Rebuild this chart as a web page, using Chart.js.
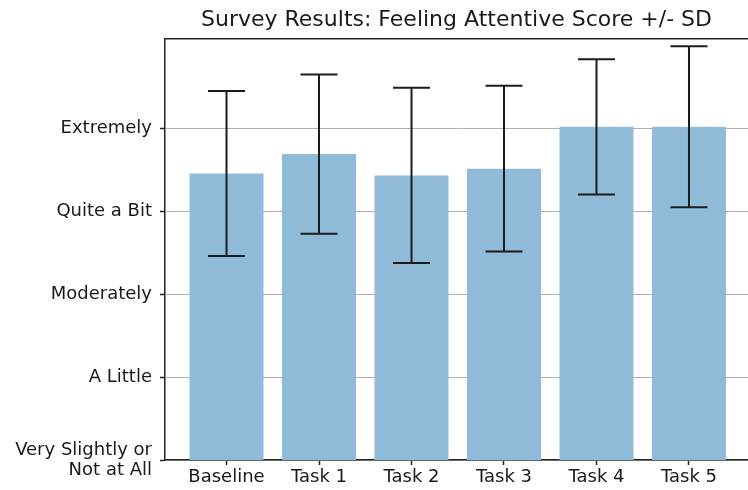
<!DOCTYPE html>
<html>
<head>
<meta charset="utf-8">
<script src="https://cdn.jsdelivr.net/npm/chart.js@4.4.0/dist/chart.umd.min.js"></script>
<style>
body { margin: 0; background: #fff; }
#wrap { width: 748px; height: 490px; }
</style>
</head>
<body>
<div id="wrap"><canvas id="surveyChart" width="748" height="490"></canvas></div>
<script>
// survey data: mean score and standard deviation per task
const taskLabels = ["Baseline", "Task 1", "Task 2", "Task 3", "Task 4", "Task 5"];
const attentiveMean = [4.455, 4.69, 4.433, 4.515, 5.02, 5.02];
const attentiveSd = [0.995, 0.96, 1.057, 1.0, 0.816, 0.97];
const scoreTicks = [1, 2, 3, 4, 5];
const scoreLabels = [["Very Slightly or", "Not at All"], "A Little", "Moderately", "Quite a Bit", "Extremely"];

const textColor = '#1a1a1a';
const spineColor = '#222';
const fontFamily = '"DejaVu Sans", sans-serif';

const errorBarPlugin = {
    id: 'errorBars',
    afterDraw(chart) {
        let ctx = chart.ctx;
        let xs = chart.scales.x;
        let ys = chart.scales.y;
        let capHalf = 18.5;
        ctx.save();
        ctx.strokeStyle = '#1c1c1c';
        ctx.lineWidth = 2;
        attentiveMean.forEach(function(m, i) {
            let px = xs.getPixelForValue(i);
            let top = ys.getPixelForValue(m + attentiveSd[i]);
            let bot = ys.getPixelForValue(m - attentiveSd[i]);
            ctx.beginPath();
            ctx.moveTo(px, top);
            ctx.lineTo(px, bot);
            ctx.moveTo(px - capHalf, top);
            ctx.lineTo(px + capHalf, top);
            ctx.moveTo(px - capHalf, bot);
            ctx.lineTo(px + capHalf, bot);
            ctx.stroke();
        });
        ctx.restore();
    }
};

function manageSurveyChart() {
    let ctx = document.getElementById("surveyChart").getContext('2d');
    let surveyChart = new Chart(ctx, {
        type: 'bar',
        data: {
            datasets: [{
                data: attentiveMean.map(function(v, i) { return {x: i, y: v}; }),
                backgroundColor: '#8fbbd9',
                borderWidth: 0,
                barPercentage: 0.8,
                categoryPercentage: 1.0,
                xAxisID: 'x',
                yAxisID: 'y'
            }]
        },
        options: {
            responsive: false,
            animation: false,
            layout: { padding: 0 },
            plugins: {
                legend: { display: false },
                tooltip: { enabled: false },
                title: {
                    display: true,
                    fullSize: false,
                    text: 'Survey Results: Feeling Attentive Score +/- SD',
                    color: textColor,
                    font: { family: fontFamily, size: 22, weight: 'normal', lineHeight: 1.2 },
                    padding: { top: 7, bottom: 5.5 }
                }
            },
            scales: {
                x: {
                    type: 'linear',
                    position: 'bottom',
                    offset: false,
                    min: -0.665,
                    max: 5.638,
                    afterBuildTicks: function(s) { s.ticks = taskLabels.map(function(_, i) { return {value: i}; }); },
                    afterFit: function(s) { s.height = 30; },
                    ticks: {
                        callback: function(v) { return taskLabels[v]; },
                        color: textColor,
                        font: { family: fontFamily, size: 18 },
                        padding: 2,
                        autoSkip: false,
                        maxRotation: 0
                    },
                    grid: { offset: false, drawOnChartArea: false, tickLength: 5, tickColor: spineColor, tickWidth: 1.5 },
                    border: { color: spineColor, width: 1.5 }
                },
                xTop: {
                    type: 'linear',
                    position: 'top',
                    ticks: { display: false },
                    grid: { display: false },
                    border: { color: spineColor, width: 1.5 },
                    afterFit: function(s) { s.height = 0; }
                },
                y: {
                    min: 1,
                    max: 6.08,
                    afterBuildTicks: function(s) { s.ticks = scoreTicks.map(function(v) { return {value: v}; }); },
                    afterFit: function(s) { s.width = 165; },
                    ticks: {
                        callback: function(v) { return scoreLabels[scoreTicks.indexOf(v)]; },
                        color: textColor,
                        font: { family: fontFamily, size: 18, lineHeight: 1.12 },
                        padding: 8
                    },
                    grid: { color: '#b0b0b0', lineWidth: 1, tickLength: 5, tickColor: spineColor, tickWidth: 1.5 },
                    border: { color: spineColor, width: 1.5 }
                }
            }
        },
        plugins: [errorBarPlugin]
    });
}

manageSurveyChart();
</script>
</body>
</html>
